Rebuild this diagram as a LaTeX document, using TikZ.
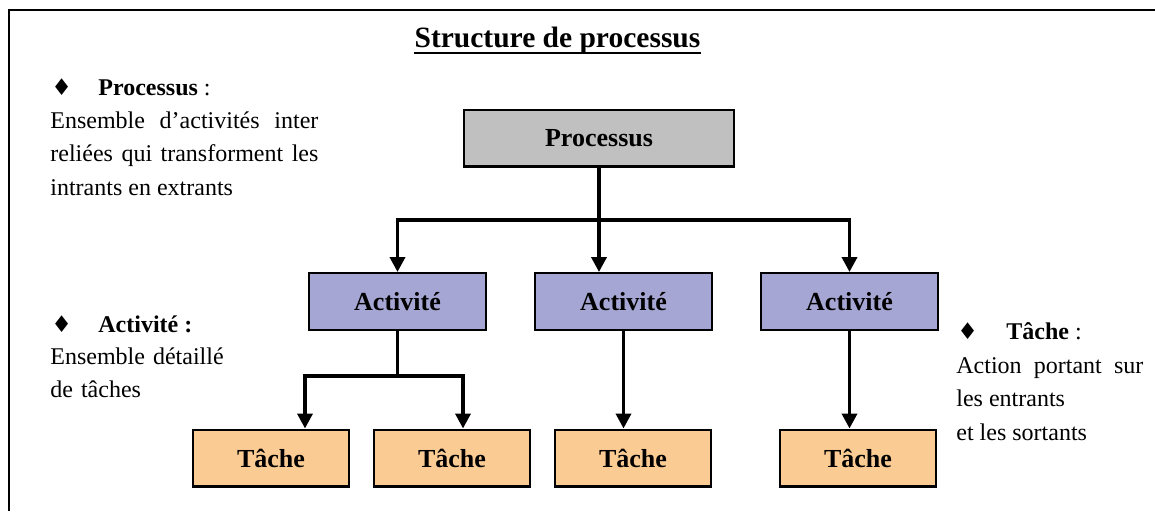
\documentclass[tikz,border=0pt]{standalone}
\usepackage{fontspec}
\setmainfont{Liberation Serif}
\newfontfamily\symfont{DejaVu Sans}
\usetikzlibrary{arrows.meta,positioning}
\definecolor{grisproc}{RGB}{192,192,192}
\definecolor{violetact}{RGB}{166,166,212}
\definecolor{orangetache}{RGB}{251,203,148}
\newcommand{\dia}{{\symfont\fontsize{11.5}{11.5}\selectfont ♦}}
\newcommand{\corps}{\fontsize{12}{16.75}\selectfont}
\tikzset{
  boite/.style={draw,line width=1.2pt,inner sep=0pt,font=\fontsize{13}{13}\selectfont\bfseries},
  proc/.style={boite,fill=grisproc,minimum width=134.8pt,minimum height=28.3pt},
  act/.style={boite,fill=violetact,minimum width=88.3pt,minimum height=28.3pt},
  tache/.style={boite,fill=orangetache,minimum width=77.8pt,minimum height=28.3pt},
  lien/.style={line width=1.8pt},
  fleche/.style={lien,-{Triangle[width=7.5pt,length=7.5pt]}},
  texte/.style={inner sep=0pt,anchor=base west,font=\corps}
}
\begin{document}
\begin{tikzpicture}[x=0.5pt,y=-0.5pt]
        \useasboundingbox (0,0) rectangle (1155,511);
        % cadre
        \draw[line width=1.3pt] (9,511) -- (9,10) -- (1155,10);
        % titre
        \node[inner sep=0pt,anchor=base,font=\fontsize{14.75}{15}\selectfont\bfseries]
          (titre) at (557.5,47) {Structure de processus};
        \draw[line width=1.3pt] ([yshift=-3pt]titre.base west) -- ([yshift=-3pt]titre.base east);

        % boites
        \node[proc] (P) at (599,138) {Processus};
        \node[act] (A1) at (397.5,301.5) {Activité};
        \node[act] (A2) at (623.5,301.5) {Activité};
        \node[act] (A3) at (849.5,301.5) {Activité};
        \node[tache] (T1) at (271,458) {Tâche};
        \node[tache] (T2) at (452,458) {Tâche};
        \node[tache] (T3) at (633,458) {Tâche};
        \node[tache] (T4) at (858,458) {Tâche};

        % liaisons
        \coordinate (j1) at (599,220);
        \draw[lien] (P.south) -- (j1);
        \draw[fleche] (j1) -| (A1.north);
        \draw[fleche] (j1) -- (j1 |- A2.north);
        \draw[fleche] (j1) -| (A3.north);
        \path (A1.south) ++(0,45) coordinate (k1);
        \coordinate (kg) at (305,376);
        \coordinate (kd) at (463,376);
        \draw[lien] (A1.south) -- (k1);
        \draw[fleche] (k1) -| (kg |- T1.north);
        \draw[fleche] (k1) -| (kd |- T2.north);
        \draw[fleche] (A2.south) -- (A2.south |- T3.north);
        \draw[fleche] (A3.south) -- (A3.south |- T4.north);

        % definitions
        \node[texte] (defP) at (51,95) {\makebox[23.5pt][l]{\dia}\textbf{Processus} :};
        \node[texte,text width=134pt,align=justify] (txtP) at (50,128)
          {Ensemble d’activités inter\linebreak reliées qui transforment les\linebreak intrants en extrants};
        \node[texte] (defA) at (51,332) {\makebox[23.5pt][l]{\dia}\textbf{Activité :}};
        \node[texte,text width=100pt,align=left] (txtA) at (50,364) {Ensemble détaillé\\ de tâches};
        \node[texte] (defT) at (957,339) {\makebox[24.5pt][l]{\dia}\textbf{Tâche} :};
        \node[texte,text width=93.5pt,align=justify] (txtT) at (956,373)
          {Action portant sur\linebreak les entrants\\ et les sortants};
\end{tikzpicture}
\end{document}
